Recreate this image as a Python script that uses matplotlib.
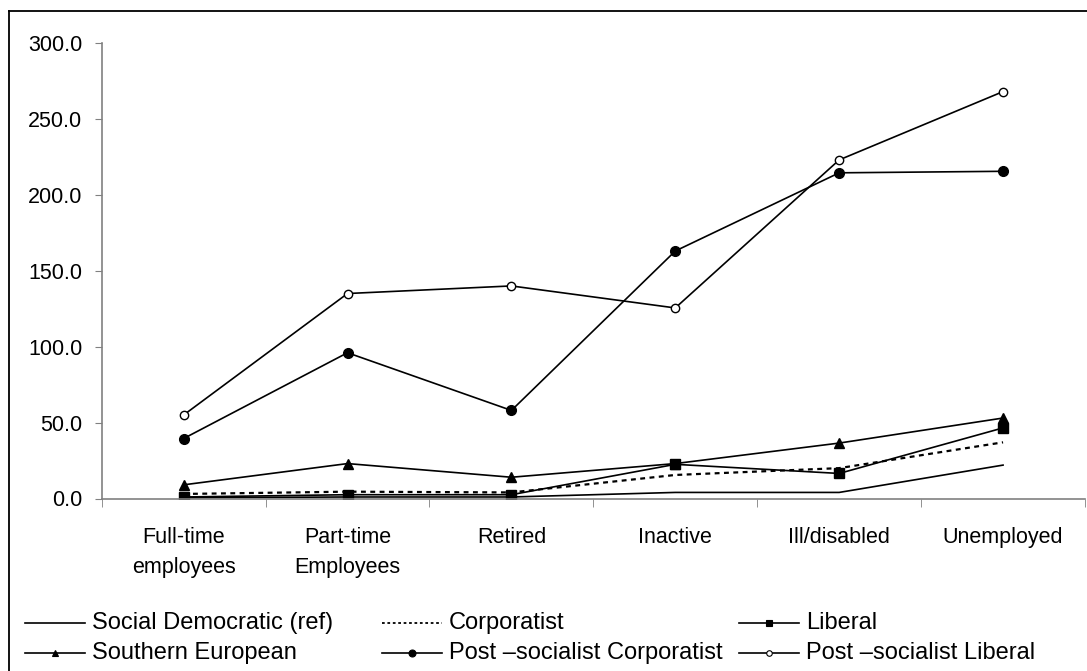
import matplotlib.pyplot as plt
from matplotlib.lines import Line2D
import numpy as np

plt.rcParams['font.family'] = ['Liberation Sans', 'DejaVu Sans']

categories = ['Full-time\nemployees', 'Part-time\nEmployees', 'Retired',
              'Inactive', 'Ill/disabled', 'Unemployed']

social_democratic = [0.5, 1.0, 1.0, 4.0, 4.0, 22.0]
corporatist = [3.0, 4.5, 4.0, 15.5, 20.0, 37.0]
liberal = [1.0, 2.5, 2.5, 22.5, 16.5, 46.5]
southern_european = [9.0, 23.0, 14.0, 23.0, 36.5, 53.0]
post_soc_corporatist = [39.5, 96.0, 58.0, 163.0, 214.5, 215.5]
post_soc_liberal = [55.0, 135.0, 140.0, 125.5, 223.0, 268.0]

labels = ['Social Democratic (ref)', 'Corporatist', 'Liberal',
          'Southern European', 'Post \u2013socialist Corporatist',
          'Post \u2013socialist Liberal']

W, H = 1087, 671
fig = plt.figure(figsize=(W / 100, H / 100), dpi=100)
ax = fig.add_axes([101.7 / W, 1 - 498.5 / H, (1085 - 101.7) / W, (498.5 - 43) / H])

x = np.arange(len(categories))
lw = 1.2
styles = [
    dict(color='black', lw=lw),
    dict(color='black', lw=1.6, linestyle=(0, (2.2, 2.0))),
    dict(color='black', lw=lw, marker='s', ms=7.5),
    dict(color='black', lw=lw, marker='^', ms=7.5),
    dict(color='black', lw=lw, marker='o', ms=7.0),
    dict(color='black', lw=lw, marker='o', ms=6.0, mfc='white', mew=1.0),
]
data = [social_democratic, corporatist, liberal, southern_european,
        post_soc_corporatist, post_soc_liberal]
for vals, st in zip(data, styles):
    ax.plot(x, vals, **st)

ax.set_xlim(-0.5, 5.5)
ax.set_ylim(0, 300)
ax.set_yticks(np.arange(0, 301, 50))
ax.set_yticklabels(['%.1f' % v for v in np.arange(0, 301, 50)])
ax.set_xticks(x)
ax.set_xticklabels(categories, linespacing=1.55)
ax.set_xticks(np.arange(-0.5, 6, 1), minor=True)
ax.tick_params(axis='x', which='major', length=0, pad=20.5, labelsize=15.5)
ax.tick_params(axis='x', which='minor', length=6, color='#808080', direction='out')
ax.tick_params(axis='y', length=5, color='#808080', pad=9, labelsize=15.5)
for s in ['top', 'right']:
    ax.spines[s].set_visible(False)
for s in ['left', 'bottom']:
    ax.spines[s].set_color('#808080')
    ax.spines[s].set_linewidth(1.2)

# outer frame (partly cut off)
tf = fig.transFigure
fig.add_artist(Line2D([9 / W, 9 / W], [0, 1 - 11 / H], color='black', lw=1.3, transform=tf))
fig.add_artist(Line2D([9 / W, 1], [1 - 11 / H, 1 - 11 / H], color='black', lw=1.3, transform=tf))

# legend in three columns, as in the source
col_x = [25, 382, 739]
row_y = [623, 653]
leg_ms = [None, None, 5.0, 5.0, 5.0, 4.0]
for i, (lab, st) in enumerate(zip(labels, styles)):
    x0 = col_x[i % 3]
    x1 = x0 + 60
    fy = 1 - row_y[i // 3] / H
    line_st = {k: v for k, v in st.items() if k not in ('marker', 'ms', 'mfc', 'mew')}
    if i == 1:
        line_st['linestyle'] = (0, (1.5, 1.5))
        line_st['lw'] = 1.3
    fig.add_artist(Line2D([x0 / W, x1 / W], [fy, fy], transform=tf, **line_st))
    if 'marker' in st:
        fig.add_artist(Line2D([(x0 + x1) / 2 / W], [fy], transform=tf, linestyle='none',
                              marker=st['marker'], ms=leg_ms[i], color='black',
                              mfc=st.get('mfc', 'black'), mew=0.8))
    fig.text((x1 + 7) / W, fy, lab, fontsize=17, va='center', ha='left')

fig.savefig('out.png', dpi=100)
